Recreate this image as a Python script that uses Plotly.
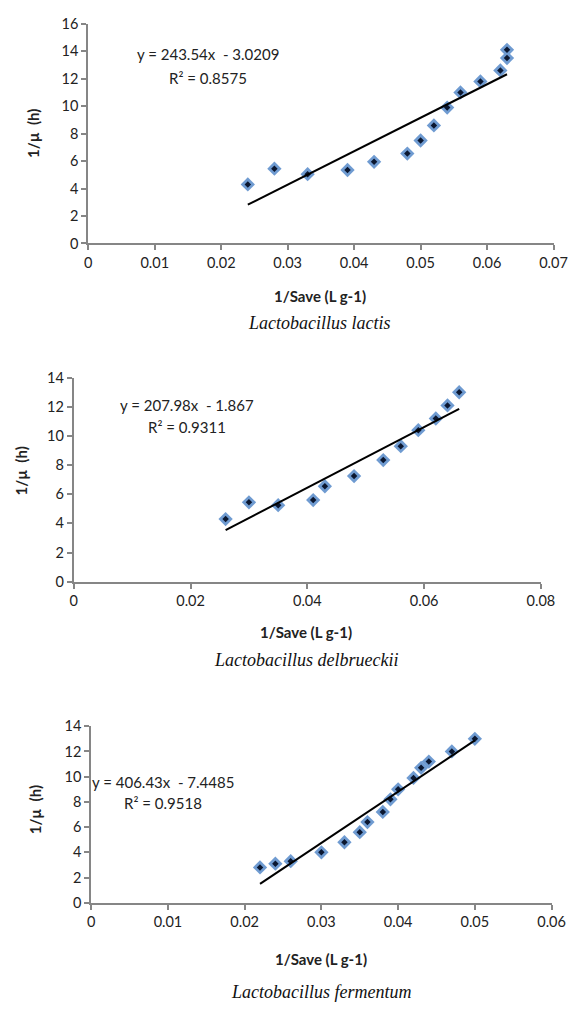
import plotly.graph_objects as go

W, H = 584, 1012

# ---- data ----
lactis_x = [0.024, 0.028, 0.033, 0.039, 0.043, 0.048, 0.050, 0.052, 0.054, 0.056, 0.059, 0.062, 0.063, 0.063]
lactis_y = [4.3, 5.45, 5.05, 5.35, 5.95, 6.55, 7.5, 8.6, 9.9, 11.0, 11.8, 12.6, 13.5, 14.1]
lactis_fit = (243.54, -3.0209)
lactis_eq = "y = 243.54x  - 3.0209"
lactis_r2 = "R\u00b2 = 0.8575"

delb_x = [0.026, 0.030, 0.035, 0.041, 0.043, 0.048, 0.053, 0.056, 0.059, 0.062, 0.064, 0.066]
delb_y = [4.3, 5.45, 5.25, 5.6, 6.55, 7.25, 8.35, 9.3, 10.4, 11.2, 12.1, 13.0]
delb_fit = (207.98, -1.867)
delb_eq = "y = 207.98x  - 1.867"
delb_r2 = "R\u00b2 = 0.9311"

ferm_x = [0.022, 0.024, 0.026, 0.030, 0.033, 0.035, 0.036, 0.038, 0.039, 0.040, 0.042, 0.043, 0.044, 0.047, 0.050]
ferm_y = [2.8, 3.1, 3.3, 4.0, 4.8, 5.6, 6.4, 7.2, 8.2, 9.0, 9.9, 10.7, 11.2, 12.0, 13.0]
ferm_fit = (406.43, -7.4485)
ferm_eq = "y = 406.43x  - 7.4485"
ferm_r2 = "R\u00b2 = 0.9518"

species = ["Lactobacillus lactis", "Lactobacillus delbrueckii", "Lactobacillus fermentum"]
x_title = "1/Save (L g-1)"
y_title = "1/\u00b5  (h)"

# ---- layout (pixels) ----
panels = [
    dict(x=lactis_x, y=lactis_y, fit=lactis_fit, eq=lactis_eq, r2=lactis_r2,
         px=(87, 567), py=(15, 238.5), xr=[0, 0.07], xd=0.01, yr=[0, 16],
         eqpos=(210, 46, 70), ytpos=(30, 127), xtpos=(326, 292), sppos=(326, 319)),
    dict(x=delb_x, y=delb_y, fit=delb_fit, eq=delb_eq, r2=delb_r2,
         px=(72, 554), py=(375, 582.5), xr=[0, 0.08], xd=0.02, yr=[0, 14],
         eqpos=(189, 403, 425), ytpos=(18, 470), xtpos=(312, 634), sppos=(312, 662)),
    dict(x=ferm_x, y=ferm_y, fit=ferm_fit, eq=ferm_eq, r2=ferm_r2,
         px=(90, 565), py=(729.5, 909), xr=[0, 0.06], xd=0.01, yr=[0, 14],
         eqpos=(164, 786, 808), ytpos=(32, 815), xtpos=(327, 966), sppos=(327, 1000)),
]

def fx(p):
    return p / W

def fy(p):
    return 1 - p / H

fig = go.Figure()
annotations = []
font = "Lato, 'Liberation Sans', sans-serif"
axis_color = "#868686"

for i, p in enumerate(panels):
    n = "" if i == 0 else str(i + 1)
    xa, ya = "x" + n, "y" + n
    fig.add_trace(go.Scatter(x=p["x"], y=p["y"], mode="markers", xaxis=xa, yaxis=ya,
                             marker=dict(symbol="diamond", size=11, color="#6f9bd1",
                                         line=dict(width=0)), showlegend=False))
    fig.add_trace(go.Scatter(x=p["x"], y=p["y"], mode="markers", xaxis=xa, yaxis=ya,
                             marker=dict(symbol="diamond", size=5, color="#0b1730",
                                         line=dict(width=0)), showlegend=False))
    m, b = p["fit"]
    xs = [min(p["x"]), max(p["x"])]
    fig.add_trace(go.Scatter(x=xs, y=[m * v + b for v in xs], mode="lines", xaxis=xa, yaxis=ya,
                             line=dict(color="black", width=2), showlegend=False))

    common = dict(showgrid=False, zeroline=False, showline=True, linecolor=axis_color,
                  linewidth=2, ticks="outside", tickcolor=axis_color, ticklen=5, tickwidth=1.5,
                  tickfont=dict(family=font, size=14.5, color="#222"))
    fig.layout["xaxis" + n] = dict(domain=[fx(p["px"][0]), fx(p["px"][1])], range=p["xr"],
                                   dtick=p["xd"], tick0=0, anchor=ya, **common)
    fig.layout["yaxis" + n] = dict(domain=[fy(p["py"][1]), fy(p["py"][0])], range=p["yr"],
                                   dtick=2, tick0=0, anchor=xa, **common)

    ex, ey1, ey2 = p["eqpos"]
    annotations.append(dict(x=fx(ex), y=fy(ey1), text=p["eq"]))
    annotations.append(dict(x=fx(ex), y=fy(ey2), text=p["r2"]))
    annotations.append(dict(x=fx(p["ytpos"][0]), y=fy(p["ytpos"][1]), text="<b>" + y_title + "</b>",
                            textangle=-90, font=dict(family=font, size=15, color="#222")))
    annotations.append(dict(x=fx(p["xtpos"][0]), y=fy(p["xtpos"][1]), text="<b>" + x_title + "</b>",
                            font=dict(family=font, size=15, color="#222")))
    annotations.append(dict(x=fx(p["sppos"][0]), y=fy(p["sppos"][1]), text="<i>" + species[i] + "</i>",
                            font=dict(family="'Liberation Serif', 'Times New Roman', serif", size=18,
                                      color="#111")))

for a in annotations:
    a.setdefault("font", dict(family=font, size=15, color="#222"))
    a.update(xref="paper", yref="paper", showarrow=False, xanchor="center", yanchor="middle")

fig.update_layout(width=W, height=H, margin=dict(l=0, r=0, t=0, b=0),
                  paper_bgcolor="white", plot_bgcolor="white", annotations=annotations)

fig.write_html("out.html")
